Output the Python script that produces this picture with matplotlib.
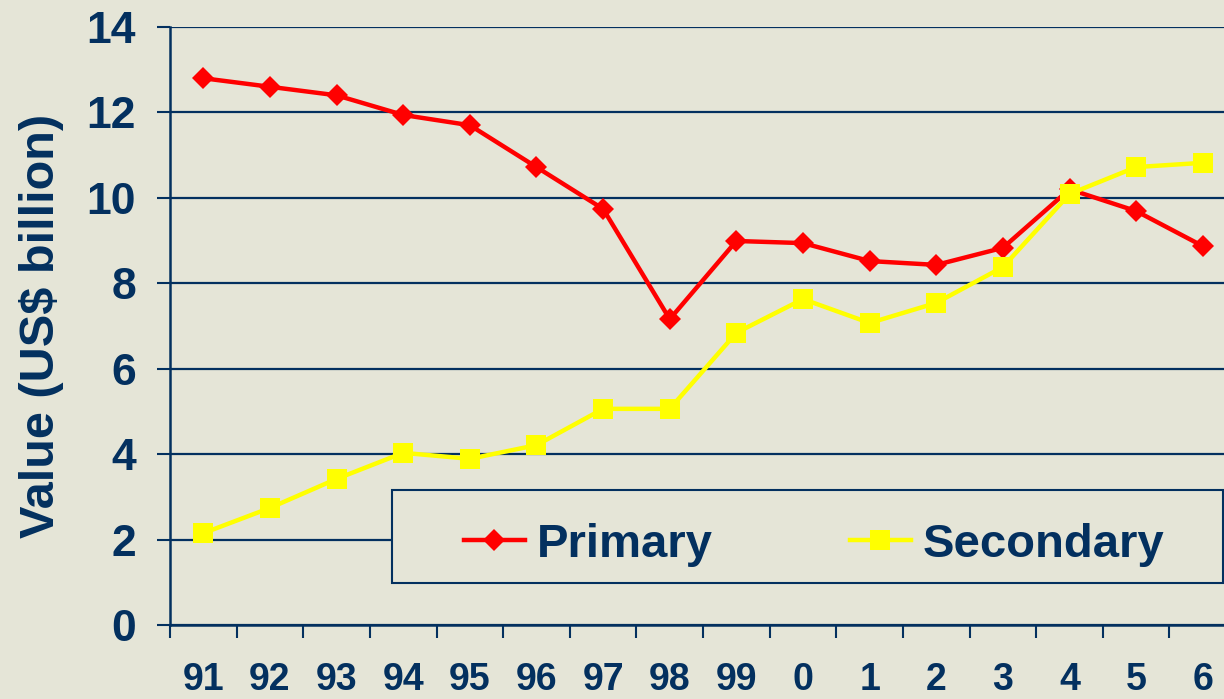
import matplotlib.pyplot as plt
from matplotlib.patches import Rectangle

years = ['91', '92', '93', '94', '95', '96', '97', '98', '99', '0', '1', '2', '3', '4', '5', '6']
primary = [12.8, 12.6, 12.4, 11.94, 11.7, 10.72, 9.74, 7.16, 8.99, 8.94, 8.52, 8.43, 8.83, 10.2, 9.69, 8.87]
secondary = [2.15, 2.74, 3.42, 4.03, 3.89, 4.21, 5.06, 5.06, 6.84, 7.63, 7.07, 7.54, 8.38, 10.09, 10.72, 10.82]

navy = '#03305F'
bg = '#E5E5D7'
plt.rcParams['font.family'] = ['Liberation Sans', 'DejaVu Sans']
plt.rcParams['font.weight'] = 'bold'

fig = plt.figure(figsize=(12.24, 6.99), dpi=100, facecolor=bg)
# axes runs a bit past the right edge of the picture, as in the original
ax = fig.add_axes([0.1389, 0.1059, 0.871, 0.8555], facecolor=bg)

x = list(range(len(years)))
ax.plot(x, primary, color='red', lw=3.2, marker='D', ms=10.8, mew=0, label='Primary', zorder=4)
ax.plot(x, secondary, color='yellow', lw=3.2, marker='s', ms=14.5, mew=0, label='Secondary', zorder=5)

ax.set_xlim(-0.5, len(years) - 0.5)
ax.set_ylim(0, 14)
ax.set_yticks(range(0, 15, 2))
ax.set_xticks(x)
ax.set_xticklabels(years)
ax.set_xticks([i - 0.5 for i in x], minor=True)
ax.tick_params(axis='x', which='major', length=0, pad=27, labelsize=27, labelcolor=navy)
ax.tick_params(axis='x', which='minor', length=9, width=1.5, color=navy, direction='out')
ax.tick_params(axis='y', length=9.5, width=1.5, color=navy, pad=15, labelsize=32, labelcolor=navy)
ax.grid(axis='y', color=navy, lw=1.6, zorder=1)
ax.set_axisbelow(True)

for s in ['top', 'right']:
    ax.spines[s].set_visible(False)
for s in ['left', 'bottom']:
    ax.spines[s].set_color(navy)
    ax.spines[s].set_linewidth(1.8)

ax.set_ylabel('Value (US$ billion)', fontsize=35, fontweight='bold', color=navy, labelpad=16)

# legend box
box = Rectangle((0.208, 0.070), 0.780, 0.156, transform=ax.transAxes, facecolor=bg,
                edgecolor=navy, lw=1.5, zorder=3, clip_on=False)
ax.add_patch(box)
leg = ax.legend(loc='center', bbox_to_anchor=(0.604, 0.134), ncol=2, frameon=False,
                fontsize=34, handlelength=1.3, handletextpad=0.25, columnspacing=2.9,
                borderpad=0.2)
for t in leg.get_texts():
    t.set_color(navy)
leg.set_zorder(6)

fig.savefig('out.png', dpi=100, facecolor=bg)
